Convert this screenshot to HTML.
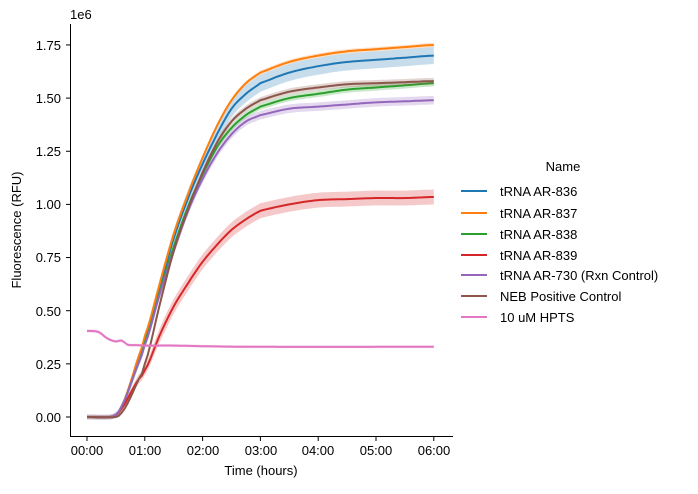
<!DOCTYPE html>
<html><head><meta charset="utf-8"><style>
body{margin:0;background:#fff;}
svg{font-family:"Liberation Sans","DejaVu Sans",sans-serif;}
</style></head><body>
<svg id="s" width="698" height="489" xmlns="http://www.w3.org/2000/svg">
<rect width="698" height="489" fill="#fff"/>
<g id="plot"></g>
<line x1="70.5" y1="24" x2="70.5" y2="436.5" stroke="#000" stroke-width="1"/>
<line x1="70" y1="436.5" x2="453" y2="436.5" stroke="#000" stroke-width="1"/>
<g font-size="13" fill="#000">
<text x="70" y="19">1e6</text>
<g text-anchor="end">
<text x="61" y="422">0.00</text>
<text x="61" y="369">0.25</text>
<text x="61" y="316">0.50</text>
<text x="61" y="262">0.75</text>
<text x="61" y="209">1.00</text>
<text x="61" y="156">1.25</text>
<text x="61" y="103">1.50</text>
<text x="61" y="50">1.75</text>
</g>
<g text-anchor="middle">
<text x="87" y="455">00:00</text>
<text x="145" y="455">01:00</text>
<text x="203" y="455">02:00</text>
<text x="261" y="455">03:00</text>
<text x="318" y="455">04:00</text>
<text x="376" y="455">05:00</text>
<text x="434" y="455">06:00</text>
<text x="261" y="475">Time (hours)</text>
<text transform="translate(21,230) rotate(-90)">Fluorescence (RFU)</text>
<text x="563" y="171">Name</text>
</g>
<g id="leg"></g>
</g>
<g id="ticks" stroke="#000"></g>
</svg>
<script>
var X=function(t){return 87+57.8*t}, Y=function(v){return 417-212.6*v};
var ticks=document.getElementById('ticks'),ns="http://www.w3.org/2000/svg";
function el(n,a,p){var e=document.createElementNS(ns,n);for(var k in a)e.setAttribute(k,a[k]);(p||ticks).appendChild(e);return e;}
for(var i=0;i<8;i++){var y=Y(i*0.25);el('line',{x1:66,x2:70,y1:y,y2:y});}
for(var i=0;i<7;i++){var x=X(i);el('line',{x1:x,x2:x,y1:437,y2:441});}
var ser=[
["tRNA AR-836","#1f77b4",[[0,0],[0.4,0],[0.5,0.01],[0.6,0.05],[0.75,0.15],[0.9,0.27],[1,0.36],[1.25,0.6],[1.5,0.84],[1.75,1.03],[2,1.19],[2.25,1.33],[2.5,1.45],[2.75,1.52],[3,1.57],[3.5,1.62],[4,1.65],[4.5,1.67],[5,1.68],[5.5,1.69],[6,1.70]],0.04],
["tRNA AR-837","#ff7f0e",[[0,0],[0.4,0],[0.5,0.01],[0.6,0.05],[0.75,0.16],[0.9,0.29],[1,0.38],[1.25,0.62],[1.5,0.86],[1.75,1.05],[2,1.22],[2.25,1.37],[2.5,1.49],[2.75,1.57],[3,1.62],[3.5,1.67],[4,1.70],[4.5,1.72],[5,1.73],[5.5,1.74],[6,1.75]],0.01],
["tRNA AR-838","#2ca02c",[[0,0],[0.4,0],[0.5,0.01],[0.6,0.05],[0.75,0.15],[0.9,0.26],[1,0.35],[1.25,0.58],[1.5,0.8],[1.75,0.99],[2,1.14],[2.25,1.27],[2.5,1.36],[2.75,1.42],[3,1.46],[3.5,1.5],[4,1.52],[4.5,1.54],[5,1.55],[5.5,1.56],[6,1.57]],0.015],
["tRNA AR-839","#d62728",[[0,0],[0.4,0],[0.5,0.01],[0.6,0.04],[0.75,0.11],[0.9,0.18],[1,0.22],[1.25,0.38],[1.5,0.52],[1.75,0.63],[2,0.73],[2.25,0.81],[2.5,0.88],[2.75,0.93],[3,0.97],[3.5,1.0],[4,1.02],[4.5,1.025],[5,1.03],[5.5,1.03],[6,1.035]],0.035],
["tRNA AR-730 (Rxn Control)","#9467bd",[[0,0],[0.4,0],[0.5,0.01],[0.6,0.05],[0.75,0.15],[0.9,0.26],[1,0.34],[1.25,0.57],[1.5,0.78],[1.75,0.97],[2,1.12],[2.25,1.24],[2.5,1.33],[2.75,1.39],[3,1.42],[3.5,1.45],[4,1.46],[4.5,1.47],[5,1.48],[5.5,1.485],[6,1.49]],0.02],
["NEB Positive Control","#8c564b",[[0,0],[0.5,0],[0.6,0.02],[0.75,0.09],[0.9,0.18],[1,0.25],[1.25,0.52],[1.5,0.78],[1.75,0.98],[2,1.15],[2.25,1.29],[2.5,1.39],[2.75,1.45],[3,1.49],[3.5,1.53],[4,1.55],[4.5,1.565],[5,1.57],[5.5,1.575],[6,1.58]],0.015],
["10 uM HPTS","#e377c2",[[0,0.405],[0.2,0.4],[0.35,0.37],[0.5,0.355],[0.6,0.36],[0.7,0.34],[0.85,0.338],[1,0.336],[1.5,0.336],[2,0.333],[2.5,0.331],[3,0.33],[6,0.33]],0.008]];
function interp(p,t){for(var i=0;i<p.length-1;i++){if(t<=p[i+1][0]){var a=p[i],b=p[i+1],u=(t-a[0])/(b[0]-a[0]);var p0=p[Math.max(i-1,0)],p3=p[Math.min(i+2,p.length-1)];var m1=(b[1]-p0[1])/2,m2=(p3[1]-a[1])/2;var u2=u*u,u3=u2*u;return (2*u3-3*u2+1)*a[1]+(u3-2*u2+u)*m1+(-2*u3+3*u2)*b[1]+(u3-u2)*m2;}}return p[p.length-1][1];}
var plot=document.getElementById('plot'),leg=document.getElementById('leg');
ser.forEach(function(s,k){var up=[],dn=[],ln=[];for(var t=0;t<=6.001;t+=0.05){var v=interp(s[2],t);var w=s[3]*Math.min(1,v/0.6+0.3);var x=X(t).toFixed(1);ln.push(x+","+Y(v).toFixed(1));up.push(x+","+Y(v+w).toFixed(1));dn.unshift(x+","+Y(v-w).toFixed(1));}
el('polygon',{points:up.concat(dn).join(" "),fill:s[1],'fill-opacity':0.25,stroke:'none'},plot);
el('polyline',{points:ln.join(" "),fill:'none',stroke:s[1],'stroke-width':2},plot);
var ly=[191,213,234,255,275,296,317][k];
el('line',{x1:461,x2:487,y1:ly,y2:ly,stroke:s[1],'stroke-width':2},leg);
var tx=el('text',{x:500,y:ly+5},leg);tx.textContent=s[0];});
</script>
</body></html>
